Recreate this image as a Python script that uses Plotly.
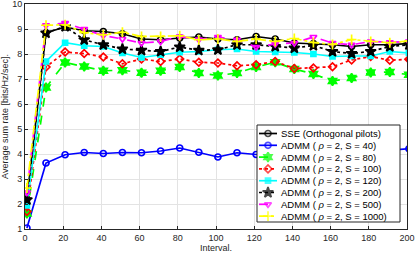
import plotly.graph_objects as go

intervals = [1, 11, 21, 31, 41, 51, 61, 71, 81, 91, 101, 111, 121, 131, 141, 151, 161, 171, 181, 191, 201]

sse = [2.2, 8.85, 9.08, 8.93, 8.9, 8.81, 8.6, 8.57, 8.64, 8.68, 8.6, 8.57, 8.7, 8.6, 8.44, 8.42, 8.37, 8.3, 8.37, 8.37, 8.42]
s40 = [1.04, 3.64, 3.97, 4.06, 4.02, 4.06, 4.05, 4.12, 4.24, 4.07, 3.88, 4.05, 3.98, 4.08, 4.04, 4.0, 4.08, 4.04, 4.1, 4.15, 4.21]
s80 = [1.62, 6.66, 7.66, 7.5, 7.33, 7.35, 7.25, 7.33, 7.48, 7.24, 7.14, 7.24, 7.48, 7.67, 7.4, 7.2, 6.92, 7.04, 7.26, 7.28, 7.17]
s100 = [1.7, 7.48, 8.08, 8.02, 7.88, 7.61, 7.8, 7.7, 7.8, 7.67, 7.64, 7.53, 7.57, 7.7, 7.42, 7.44, 7.49, 7.76, 7.9, 7.75, 7.79]
s120 = [1.94, 7.7, 8.45, 8.33, 8.3, 8.04, 7.86, 7.97, 8.07, 8.1, 8.17, 8.2, 8.1, 8.08, 8.06, 8.0, 7.9, 7.92, 7.92, 8.1, 8.04]
s200 = [2.17, 8.84, 9.1, 8.57, 8.37, 8.2, 8.15, 8.1, 8.28, 8.15, 8.17, 8.37, 8.37, 8.3, 8.24, 8.34, 8.1, 8.02, 8.1, 8.3, 8.37]
s500 = [2.46, 9.15, 9.24, 9.0, 8.74, 8.6, 8.44, 8.5, 8.7, 8.58, 8.68, 8.57, 8.28, 8.4, 8.44, 8.68, 8.44, 8.37, 8.5, 8.47, 8.5]
s1000 = [2.64, 9.15, 9.17, 8.85, 8.77, 8.87, 8.7, 8.7, 8.73, 8.57, 8.6, 8.5, 8.6, 8.5, 8.62, 8.46, 8.38, 8.58, 8.5, 8.45, 8.52]

x_ticks = [0, 20, 40, 60, 80, 100, 120, 140, 160, 180, 200]
y_ticks = [1, 2, 3, 4, 5, 6, 7, 8, 9, 10]

rho = "<i>\u03c1</i>"
legend_labels = [
    "SSE (Orthogonal pilots)",
    f"ADMM ( {rho} = 2, S = 40)",
    f"ADMM ( {rho} = 2, S = 80)",
    f"ADMM ( {rho} = 2, S = 100)",
    f"ADMM ( {rho} = 2, S = 120)",
    f"ADMM ( {rho} = 2, S = 200)",
    f"ADMM ( {rho} = 2, S = 500)",
    f"ADMM ( {rho} = 2, S = 1000)",
]
values = [sse, s40, s80, s100, s120, s200, s500, s1000]
styles = [
    ("black", "solid", "circle-open", 6),
    ("#0000FF", "solid", "circle-open", 6),
    ("#00FF00", "dash", "hexagram", 7),
    ("#FF0000", "dot", "diamond-open", 6),
    ("#00FFFF", "solid", "square", 5),
    ("black", "dot", "star", 8),
    ("#FF00FF", "dash", "triangle-down-open", 6),
    ("#FFFF00", "dashdot", "cross-thin-open", 7),
]

# plot area in page pixels (layout only)
L, R, T, B = 25, 407, 4, 229

fig = go.Figure()
for name, vals, (color, dash, sym, size) in zip(legend_labels, values, styles):
    fig.add_trace(go.Scatter(
        x=intervals, y=vals, name=name, mode="lines+markers", showlegend=False,
        line=dict(color=color, width=1.7, dash=dash),
        marker=dict(symbol=sym, size=size, color=color, line=dict(color=color, width=1.7)),
        hoverinfo="skip",
    ))

# custom compact legend drawn on an overlay axis in page-pixel units
box_l, box_r, box_t, box_b = 257, 400, 125, 222
row0, row_step = 133.5, 11.8
fig.add_trace(go.Scatter(
    x=[box_l, box_r, box_r, box_l, box_l], y=[box_t, box_t, box_b, box_b, box_t],
    xaxis="x2", yaxis="y2", mode="lines", fill="toself", fillcolor="white",
    line=dict(color="#262626", width=1), showlegend=False, hoverinfo="skip",
))
annotations = []
for i, (name, (color, dash, sym, size)) in enumerate(zip(legend_labels, styles)):
    yy = row0 + i * row_step
    fig.add_trace(go.Scatter(
        x=[259, 268, 277], y=[yy, yy, yy], xaxis="x2", yaxis="y2",
        mode="lines+markers", showlegend=False, hoverinfo="skip",
        line=dict(color=color, width=1.7, dash=dash),
        marker=dict(symbol=sym, size=[0, size, 0], color=color,
                    line=dict(color=color, width=1.7)),
    ))
    annotations.append(dict(
        x=279, y=yy, xref="x2", yref="y2", text=name, showarrow=False,
        xanchor="left", yanchor="middle", font=dict(size=9.5, color="black"),
    ))

axis_common = dict(
    showgrid=True, gridcolor="#e3e3e3", gridwidth=1,
    showline=True, linecolor="#262626", linewidth=1, mirror=True,
    ticks="inside", ticklen=3, tickcolor="#262626",
    tickfont=dict(size=9, color="#262626"), zeroline=False,
    ticklabeloverflow="allow",
)
fig.update_xaxes(range=[0, 200], tickvals=x_ticks,
                 title=dict(text="Interval.", font=dict(size=9, color="#262626"), standoff=1),
                 **axis_common)
fig.update_yaxes(range=[1, 10], tickvals=y_ticks,
                 title=dict(text="Average sum rate [bits/Hz/sec].", font=dict(size=9, color="#262626"), standoff=4),
                 **axis_common)

fig.update_layout(
    width=415, height=254,
    margin=dict(l=L, r=415 - R, t=T, b=254 - B, autoexpand=False),
    paper_bgcolor="white", plot_bgcolor="white",
    font=dict(family="Liberation Sans, Arial, sans-serif"),
    showlegend=False,
    xaxis2=dict(overlaying="x", range=[L, R], visible=False, fixedrange=True),
    yaxis2=dict(overlaying="y", range=[B, T], visible=False, fixedrange=True),
    annotations=annotations,
)

fig.write_html("out.html", config={"displayModeBar": False},
               post_script="document.body.style.margin='0';document.body.style.overflow='hidden';")
